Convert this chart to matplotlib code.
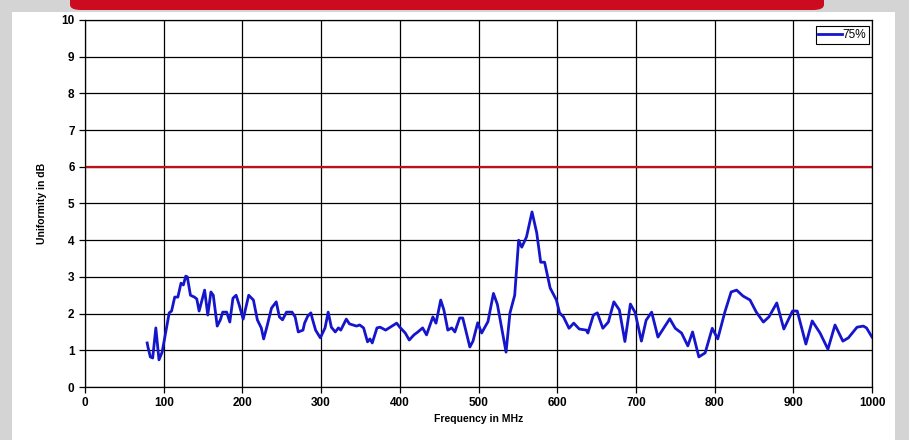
import numpy as np
import matplotlib.pyplot as plt
from matplotlib.patches import FancyBboxPatch, Rectangle

plt.rcParams['font.family'] = ['Liberation Sans', 'DejaVu Sans']

freq_mhz = [79, 80, 83, 86, 90, 94, 98, 103, 107, 110, 114, 118, 122, 125, 128, 130,
            134, 139, 142, 145, 152, 156, 160, 163, 168, 172, 175, 180, 184, 188, 192,
            196, 201, 208, 214, 219, 224, 227, 231, 237, 243, 247, 251, 256, 263, 267,
            271, 277, 279, 283, 287, 289, 293, 299, 305, 309, 313, 318, 322, 325, 332,
            336, 345, 349, 354, 359, 362, 365, 371, 375, 382, 388, 396, 400, 407, 412,
            418, 423, 429, 434, 442, 446, 452, 456, 461, 466, 470, 476, 480, 489, 493,
            499, 504, 512, 519, 524, 535, 540, 546, 551, 555, 561, 568, 574, 579, 584,
            591, 599, 603, 608, 615, 621, 628, 637, 639, 646, 651, 658, 665, 672, 679,
            686, 693, 699, 707, 713, 720, 728, 743, 750, 758, 766, 772, 780, 788, 797,
            804, 813, 821, 828, 836, 845, 853, 862, 869, 879, 888, 899, 905, 916, 924,
            934, 944, 953, 963, 970, 981, 989, 993, 1000]
uniformity_db = [1.2, 1.09, 0.82, 0.79, 1.61, 0.74, 0.95, 1.55, 2.02, 2.07, 2.45, 2.45,
                 2.83, 2.78, 3.02, 3.0, 2.5, 2.45, 2.4, 2.07, 2.64, 1.96, 2.59, 2.5, 1.66,
                 1.83, 2.04, 2.04, 1.77, 2.42, 2.5, 2.23, 1.85, 2.5, 2.37, 1.83, 1.61,
                 1.31, 1.63, 2.15, 2.32, 1.91, 1.83, 2.04, 2.04, 1.91, 1.5, 1.55, 1.74,
                 1.93, 2.02, 1.85, 1.55, 1.34, 1.61, 2.04, 1.63, 1.5, 1.61, 1.55, 1.85,
                 1.72, 1.66, 1.69, 1.61, 1.23, 1.31, 1.2, 1.61, 1.63, 1.55, 1.63, 1.74,
                 1.63, 1.47, 1.28, 1.42, 1.5, 1.61, 1.42, 1.91, 1.74, 2.37, 2.1, 1.55,
                 1.61, 1.5, 1.88, 1.88, 1.09, 1.25, 1.75, 1.47, 1.78, 2.55, 2.25, 0.95,
                 2.02, 2.5, 4.0, 3.81, 4.09, 4.77, 4.2, 3.4, 3.4, 2.7, 2.37, 2.02, 1.91,
                 1.6, 1.74, 1.58, 1.55, 1.47, 1.96, 2.02, 1.6, 1.77, 2.32, 2.1, 1.24,
                 2.26, 2.03, 1.25, 1.82, 2.04, 1.36, 1.86, 1.6, 1.47, 1.12, 1.5, 0.82,
                 0.93, 1.6, 1.31, 2.04, 2.59, 2.64, 2.48, 2.37, 2.04, 1.77, 1.91, 2.29,
                 1.58, 2.07, 2.07, 1.17, 1.8, 1.47, 1.03, 1.69, 1.25, 1.34, 1.63, 1.66,
                 1.61, 1.36]
limit_db = 6
x_ticks = np.arange(0, 1001, 100)
y_ticks = np.arange(0, 11, 1)

fig = plt.figure(figsize=(9.09, 4.40), dpi=100)
fig.patch.set_facecolor('#d4d4d4')

# white card and red banner behind the chart
fig.patches.append(Rectangle((12 / 909, 0), 883 / 909, 428 / 440,
                             transform=fig.transFigure, facecolor='white',
                             edgecolor='none', zorder=0))
fig.patches.append(FancyBboxPatch((70 / 909, 430 / 440), 754 / 909, 20 / 440,
                                  boxstyle='round,pad=0,rounding_size=0.012',
                                  transform=fig.transFigure, facecolor='#cc0a20',
                                  edgecolor='none', zorder=1))

ax = fig.add_axes([85 / 909, 53 / 440, 787 / 909, 367 / 440])
ax.set_zorder(5)
ax.plot(freq_mhz, uniformity_db, color='#1515cc', lw=2, label='75%', zorder=3)
ax.axhline(limit_db, color='#c0101a', lw=1.6, zorder=2)

ax.set_xlim(0, 1000)
ax.set_ylim(0, 10)
ax.set_xticks(x_ticks)
ax.set_yticks(y_ticks)
ax.grid(True, color='black', lw=0.9)
ax.tick_params(direction='out', length=4, width=0.9, labelsize=8.5)
for lab in ax.get_xticklabels() + ax.get_yticklabels():
    lab.set_fontweight('bold')
for s in ax.spines.values():
    s.set_linewidth(0.9)

ax.set_xlabel('Frequency in MHz', fontsize=7.5, fontweight='bold', labelpad=3)
ax.set_ylabel('Uniformity in dB', fontsize=7.5, fontweight='bold', labelpad=10)

leg = ax.legend(loc='upper right', fontsize=8.5, handlelength=2.0, handletextpad=0.05,
                borderpad=0.25, borderaxespad=0.2, fancybox=False, framealpha=1,
                bbox_to_anchor=(0.9995, 0.99))
leg.get_frame().set_edgecolor('black')
leg.get_frame().set_linewidth(0.8)

plt.savefig('out.png', dpi=100, facecolor=fig.get_facecolor())
